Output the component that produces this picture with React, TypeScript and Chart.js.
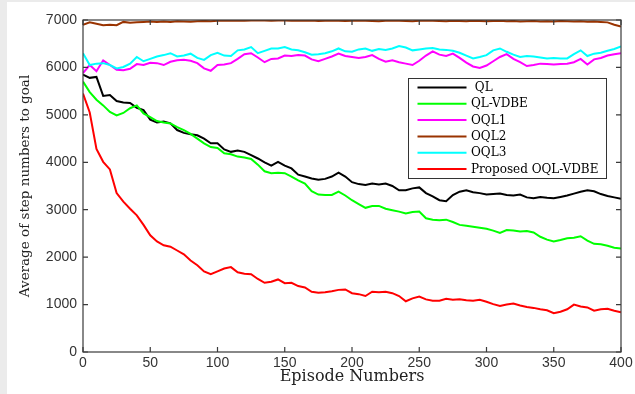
import React, { useEffect, useRef } from "react";
import { Chart, registerables } from "chart.js";

Chart.register(...registerables);

// Episode numbers (x values)
const EPISODES = [
  0, 5, 10, 15, 20, 25, 30, 35, 40, 45,
  50, 55, 60, 65, 70, 75, 80, 85, 90, 95,
  100, 105, 110, 115, 120, 125, 130, 135, 140, 145,
  150, 155, 160, 165, 170, 175, 180, 185, 190, 195,
  200, 205, 210, 215, 220, 225, 230, 235, 240, 245,
  250, 255, 260, 265, 270, 275, 280, 285, 290, 295,
  300, 305, 310, 315, 320, 325, 330, 335, 340, 345,
  350, 355, 360, 365, 370, 375, 380, 385, 390, 395,
  400,
];

const QL = [
  5850, 5780, 5800, 5400, 5420, 5290, 5260, 5250, 5150, 5100,
  4900, 4840, 4860, 4820, 4680, 4620, 4590, 4570, 4500, 4400,
  4400, 4270, 4220, 4250, 4220, 4150, 4080, 4000, 3930, 4010,
  3930, 3870, 3740, 3700, 3660, 3630, 3650, 3700, 3780, 3700,
  3580, 3540, 3520, 3550, 3530, 3550, 3500, 3410, 3410, 3450,
  3470, 3350, 3280, 3200, 3180, 3310, 3380, 3410, 3370, 3350,
  3320, 3330, 3340, 3310, 3300, 3320, 3260, 3240, 3270, 3250,
  3240, 3270, 3300, 3340, 3380, 3410, 3390, 3330, 3290, 3260,
  3230,
];

const QL_VDBE = [
  5700, 5480, 5320, 5200, 5060, 4990, 5040, 5140, 5200, 5030,
  4950, 4870, 4840, 4820, 4740, 4680, 4600, 4500, 4400, 4320,
  4300, 4190, 4170, 4120, 4100, 4070, 3950, 3810, 3770, 3780,
  3770, 3700, 3620, 3550, 3390, 3320, 3310, 3310, 3380, 3300,
  3200, 3120, 3040, 3080, 3080, 3020, 2990, 2960, 2920, 2950,
  2960, 2820, 2790, 2780, 2790, 2740, 2680, 2660, 2640, 2620,
  2600, 2560, 2510, 2570, 2560, 2540, 2550, 2520, 2430, 2370,
  2330, 2360, 2400, 2410, 2440, 2350, 2280, 2270, 2240, 2200,
  2180,
];

const OQL1 = [
  5880, 6050, 5920, 6150, 6050, 5950, 5940, 5970, 6070, 6050,
  6100, 6090, 6050, 6120, 6150, 6160, 6140, 6090, 5980, 5930,
  6050, 6060, 6090, 6180, 6280, 6300, 6210, 6110, 6180, 6190,
  6250, 6240, 6260, 6250, 6170, 6130, 6180, 6230, 6290, 6240,
  6220, 6200, 6220, 6260, 6180, 6120, 6150, 6110, 6080, 6050,
  6140, 6250, 6340, 6270, 6240, 6290, 6200, 6100, 6020, 5990,
  6040, 6130, 6220, 6280, 6180, 6110, 6030, 6050, 6080, 6070,
  6060, 6070, 6080, 6110, 6180, 6060, 6170, 6200, 6250, 6280,
  6300,
];

const OQL2 = [
  6900, 6950, 6920, 6890, 6900, 6890, 6960, 6940, 6950, 6960,
  6970, 6960, 6970, 6960, 6975, 6970, 6965, 6975, 6980, 6975,
  6985, 6990, 6985, 6990, 6985, 6990, 6995, 6990, 6985, 6990,
  6990, 6985, 6990, 6985, 6990, 6980, 6985, 6990, 6985, 6980,
  6985, 6990, 6985, 6980, 6975, 6985, 6990, 6985, 6980, 6975,
  6985, 6990, 6985, 6980, 6975, 6985, 6980, 6975, 6985, 6980,
  6975, 6980, 6985, 6975, 6980, 6970, 6975, 6980, 6970, 6975,
  6970, 6980, 6975, 6970, 6975, 6965, 6970, 6960, 6950, 6900,
  6860,
];

const OQL3 = [
  6300, 6050, 6080, 6090, 6050, 5980, 6010, 6080, 6220, 6130,
  6180, 6230, 6260, 6300, 6230, 6250, 6290, 6200, 6160, 6260,
  6310, 6250, 6240, 6360, 6380, 6430, 6300, 6350, 6400, 6400,
  6430, 6380, 6360, 6320, 6270, 6280, 6300, 6340, 6400, 6340,
  6330, 6380, 6400, 6350, 6390, 6370, 6400, 6450, 6420, 6360,
  6380, 6400, 6410, 6380, 6370, 6350, 6310, 6250, 6190, 6220,
  6260, 6360, 6400, 6330, 6270, 6220, 6240, 6230, 6210, 6190,
  6200, 6190, 6190, 6280, 6360, 6240, 6290, 6310, 6350, 6390,
  6440,
];

const PROPOSED = [
  5450, 5050, 4280, 4010, 3850, 3350, 3170, 3020, 2880, 2680,
  2460, 2330, 2250, 2220, 2140, 2060, 1930, 1830, 1700, 1640,
  1700, 1760, 1790, 1680, 1650, 1640, 1540, 1460, 1480, 1530,
  1450, 1460, 1390, 1360, 1270, 1250, 1260, 1280, 1310, 1320,
  1240, 1220, 1180, 1270, 1260, 1270, 1240, 1180, 1070, 1130,
  1170, 1110, 1080, 1080, 1120, 1100, 1110, 1090, 1080, 1100,
  1060, 1010, 970, 1000, 1020, 980, 950, 930, 900, 880,
  820, 850, 900, 1000, 960, 940, 870, 900, 910, 870,
  840,
];

const SERIES_LABELS = [" QL", "QL-VDBE", "OQL1", "OQL2", "OQL3", "Proposed OQL-VDBE"];
const SERIES_COLORS = ["#000000", "#00ff00", "#ff00ff", "#993300", "#00ffff", "#ff0000"];
const SERIES_VALUES = [QL, QL_VDBE, OQL1, OQL2, OQL3, PROPOSED];

const X_MIN = 0;
const X_MAX = 400;
const X_STEP = 50;
const Y_MIN = 0;
const Y_MAX = 7000;
const Y_STEP = 1000;

const X_TITLE = "Episode Numbers";
const Y_TITLE = "Average of step numbers to goal";

const SERIF = "'DejaVu Serif', 'Liberation Serif', serif";
const SANS = "'Liberation Sans', Arial, sans-serif";
const AXIS_COLOR = "#3a3a3a";

const overlayPlugin = {
  id: "matlabOverlay",
  afterDraw(chart: any) {
    const ctx = chart.ctx;
    const a = chart.chartArea;
    const xs = chart.scales.x;
    const ys = chart.scales.y;
    ctx.save();
    // axes box
    ctx.strokeStyle = AXIS_COLOR;
    ctx.lineWidth = 1.2;
    ctx.strokeRect(a.left, a.top, a.right - a.left, a.bottom - a.top);
    // inward tick marks on all four sides
    const tl = 5;
    ctx.beginPath();
    for (const t of xs.ticks) {
      const px = xs.getPixelForValue(t.value);
      ctx.moveTo(px, a.bottom);
      ctx.lineTo(px, a.bottom - tl);
      ctx.moveTo(px, a.top);
      ctx.lineTo(px, a.top + tl);
    }
    for (const t of ys.ticks) {
      const py = ys.getPixelForValue(t.value);
      ctx.moveTo(a.left, py);
      ctx.lineTo(a.left + tl, py);
      ctx.moveTo(a.right, py);
      ctx.lineTo(a.right - tl, py);
    }
    ctx.stroke();

    // legend box
    const boxW = 198;
    const boxH = 100;
    const bx = Math.round(a.right - 15 - boxW) + 0.5;
    const by = Math.round(a.top + 58) + 0.5;
    ctx.fillStyle = "#ffffff";
    ctx.fillRect(bx, by, boxW, boxH);
    ctx.strokeStyle = "#333333";
    ctx.lineWidth = 1;
    ctx.strokeRect(bx, by, boxW, boxH);
    ctx.font = `12px ${SERIF}`;
    ctx.textBaseline = "middle";
    ctx.textAlign = "left";
    chart.data.datasets.forEach((ds: any, i: number) => {
      const y = by + 9 + i * 16.3;
      ctx.strokeStyle = ds.borderColor;
      ctx.lineWidth = 2;
      ctx.beginPath();
      ctx.moveTo(bx + 9, y);
      ctx.lineTo(bx + 58, y);
      ctx.stroke();
      ctx.fillStyle = "#000000";
      ctx.fillText(ds.label, bx + 62.5, y + 0.5);
    });
    ctx.restore();
  },
};

export default function App() {
  const canvasRef = useRef<HTMLCanvasElement>(null);

  useEffect(() => {
    const canvas = canvasRef.current;
    if (!canvas) return;
    const n = SERIES_VALUES.length;
    const chart = new Chart(canvas, {
      type: "line",
      data: {
        datasets: SERIES_VALUES.map((vals, i) => ({
          label: SERIES_LABELS[i],
          data: vals.map((v, j) => ({ x: EPISODES[j], y: v })),
          borderColor: SERIES_COLORS[i],
          backgroundColor: SERIES_COLORS[i],
          borderWidth: 2,
          pointRadius: 0,
          tension: 0,
          fill: false,
          order: n - 1 - i,
        })),
      },
      options: {
        responsive: false,
        animation: false,
        devicePixelRatio: 1,
        layout: { padding: { top: 18, right: 14, left: 0, bottom: 0 } },
        plugins: {
          legend: { display: false },
          tooltip: { enabled: false },
          title: { display: false },
        },
        scales: {
          x: {
            type: "linear",
            position: "bottom",
            min: X_MIN,
            max: X_MAX,
            grid: { display: false },
            border: { display: false },
            ticks: {
              stepSize: X_STEP,
              autoSkip: false,
              maxRotation: 0,
              padding: -5,
              color: "#333333",
              font: { family: SANS, size: 14 },
              callback: (v: any) => String(v),
            },
            title: {
              display: true,
              text: X_TITLE,
              color: "#222222",
              font: { family: SERIF, size: 16 },
              padding: { top: 0, bottom: 8 },
            },
            afterFit(scale: any) {
              scale.height = 42;
            },
          },
          y: {
            type: "linear",
            position: "left",
            min: Y_MIN,
            max: Y_MAX,
            grid: { display: false },
            border: { display: false },
            ticks: {
              stepSize: Y_STEP,
              padding: -2,
              color: "#333333",
              font: { family: SANS, size: 14 },
              callback: (v: any) => String(v),
            },
            title: {
              display: true,
              text: Y_TITLE,
              color: "#222222",
              font: { family: SERIF, size: 13.5 },
              padding: { top: 10, bottom: 0 },
            },
            afterFit(scale: any) {
              scale.width = 76;
            },
          },
        },
      },
      plugins: [overlayPlugin],
    });
    return () => chart.destroy();
  }, []);

  return (
    <div
      style={{
        position: "absolute",
        left: 0,
        top: 0,
        width: 635,
        height: 394,
        background: "#ebebeb",
        overflow: "hidden",
      }}
    >
      <div
        style={{
          position: "absolute",
          left: 7,
          top: 2,
          width: 628,
          height: 392,
          background: "#ffffff",
        }}
      >
        <canvas
          ref={canvasRef}
          width={628}
          height={392}
          style={{ display: "block", width: 628, height: 392 }}
        />
      </div>
    </div>
  );
}
